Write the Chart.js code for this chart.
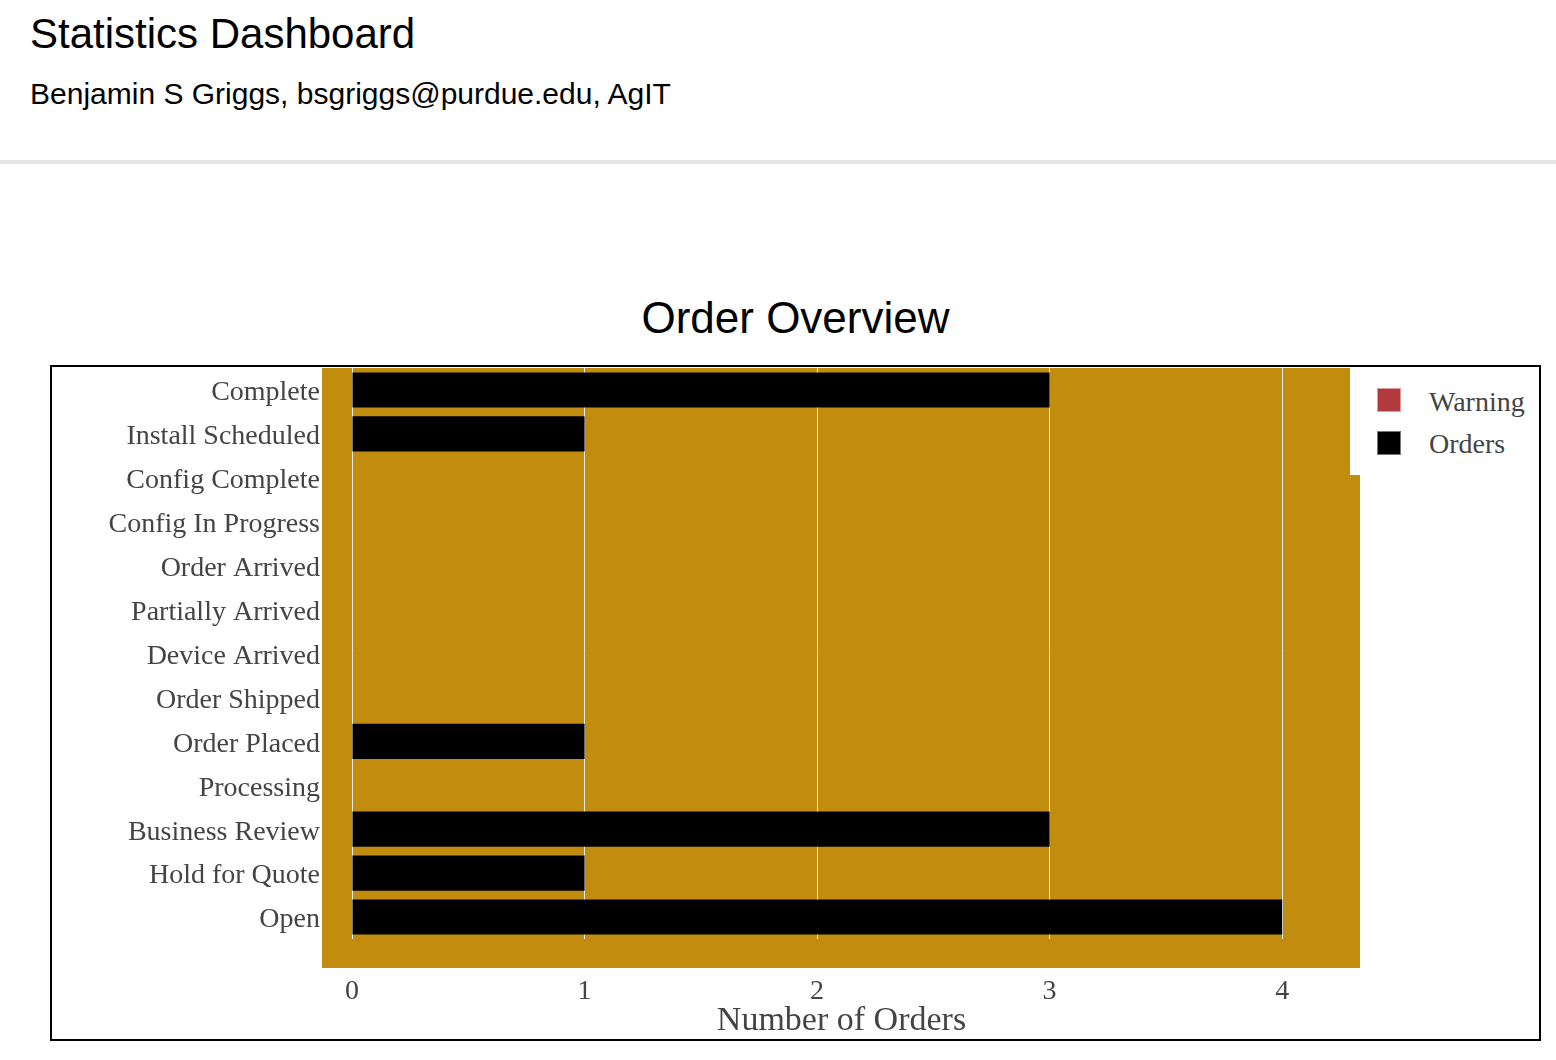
<!DOCTYPE html>
<html>
<head>
<meta charset="utf-8">
<script src="https://cdn.jsdelivr.net/npm/chart.js@4/dist/chart.umd.min.js"></script>
<style>
  html, body { margin: 0; padding: 0; background: #fff; }
  body { width: 1556px; height: 1060px; position: relative; overflow: hidden; }
  #h1 { position: absolute; left: 30px; top: 13px; font: 42px/42px "Liberation Sans", Arial, sans-serif; color: #000; white-space: nowrap; }
  #h2 { position: absolute; left: 30px; top: 79px; font: 30px/30px "Liberation Sans", Arial, sans-serif; color: #000; white-space: nowrap; }
  #sep { position: absolute; left: 0; top: 160px; width: 1556px; height: 4px; background: #e5e5e5; }
  #title { position: absolute; left: 50px; width: 1491px; top: 296px; text-align: center; font: 44px/44px "Liberation Sans", Arial, sans-serif; color: #000; }
  #box { position: absolute; left: 50px; top: 365px; width: 1491px; height: 676px; box-sizing: border-box; border: 2px solid #000; }
  #wrap { position: absolute; left: 0; top: 0; width: 1487px; height: 672px; }
  #legend { position: absolute; left: 1298px; top: 0; width: 189px; height: 108px; background: #fff; }
  .lg-box { position: absolute; left: 27px; width: 24px; height: 24px; box-sizing: border-box; border: 1px solid; }
  .lg-txt { position: absolute; left: 79px; font: 28px/28px "Liberation Serif", "Times New Roman", serif; color: #444; white-space: nowrap; }
</style>
</head>
<body>
<div id="h1">Statistics Dashboard</div>
<div id="h2">Benjamin S Griggs, bsgriggs@purdue.edu, AgIT</div>
<div id="sep"></div>
<div id="title">Order Overview</div>
<div id="box">
  <div id="wrap"><canvas id="c"></canvas></div>
  <div id="legend"></div>
</div>
<script>
// ---- data ----
const categories = ['Complete', 'Install Scheduled', 'Config Complete', 'Config In Progress',
  'Order Arrived', 'Partially Arrived', 'Device Arrived', 'Order Shipped', 'Order Placed',
  'Processing', 'Business Review', 'Hold for Quote', 'Open'];
const seriesNames = ['Warning', 'Orders'];
const warningCounts = [0, 0, 0, 0, 0, 0, 0, 0, 0, 0, 0, 0, 0];
const orderCounts = [3, 1, 0, 0, 0, 0, 0, 0, 1, 0, 3, 1, 4];
const xTickValues = [0, 1, 2, 3, 4];
const xAxisTitle = 'Number of Orders';

// ---- styles ----
const GOLD = '#c28d0f';
const seriesColors = ['#b13a3d', '#000000'];
const seriesBorders = ['#e09a9a', '#777777'];
const serif = '"Liberation Serif", "Times New Roman", serif';

const goldBg = {
  id: 'goldBg',
  beforeDraw(chart) {
    const a = chart.chartArea, ctx = chart.ctx;
    ctx.save();
    ctx.fillStyle = GOLD;
    ctx.fillRect(a.left - 30, a.top, (a.right - a.left) + 59, (a.bottom - a.top) + 29);
    ctx.restore();
  }
};

const chart = new Chart(document.getElementById('c'), {
  type: 'bar',
  data: {
    labels: categories,
    datasets: [
      { label: seriesNames[0], data: warningCounts, backgroundColor: seriesColors[0] },
      { label: seriesNames[1], data: orderCounts, backgroundColor: seriesColors[1] }
    ]
  },
  options: {
    indexAxis: 'y',
    responsive: true,
    maintainAspectRatio: false,
    animation: false,
    events: [],
    layout: { padding: { top: 1, right: 208, bottom: 0, left: 0 } },
    datasets: { bar: { grouped: false, barPercentage: 0.8, categoryPercentage: 1.0, borderWidth: 0 } },
    plugins: { legend: { display: false }, tooltip: { enabled: false } },
    scales: {
      x: {
        type: 'linear',
        min: 0,
        max: 4.21,
        afterBuildTicks(s) { s.ticks = xTickValues.map(v => ({ value: v })); },
        afterFit(s) { s.height = 100; s.paddingLeft = 0; s.paddingRight = 0; },
        grid: { display: true, color: '#ececec', lineWidth: 1, drawTicks: false },
        border: { display: false },
        ticks: { padding: 36, color: '#444', font: { family: serif, size: 28 } },
        title: { display: true, text: xAxisTitle, color: '#444', padding: { top: 0, bottom: -2 }, font: { family: serif, size: 34 } }
      },
      y: {
        type: 'category',
        offset: true,
        afterFit(s) { s.width = 300; s.paddingTop = 0; s.paddingBottom = 0; },
        grid: { display: false, drawTicks: false },
        border: { display: false },
        ticks: { padding: 32, labelOffset: 3, color: '#444', autoSkip: false, font: { family: serif, size: 28 } }
      }
    }
  },
  plugins: [goldBg]
});

// HTML legend built from datasets
const lg = document.getElementById('legend');
const rowTops = [21, 63.5];
chart.data.datasets.forEach((ds, i) => {
  const b = document.createElement('div');
  b.className = 'lg-box';
  b.style.top = rowTops[i] + 'px';
  b.style.background = ds.backgroundColor;
  b.style.borderColor = seriesBorders[i];
  lg.appendChild(b);
  const t = document.createElement('div');
  t.className = 'lg-txt';
  t.style.top = (rowTops[i] - 0.5) + 'px';
  t.textContent = ds.label;
  lg.appendChild(t);
});
</script>
</body>
</html>
